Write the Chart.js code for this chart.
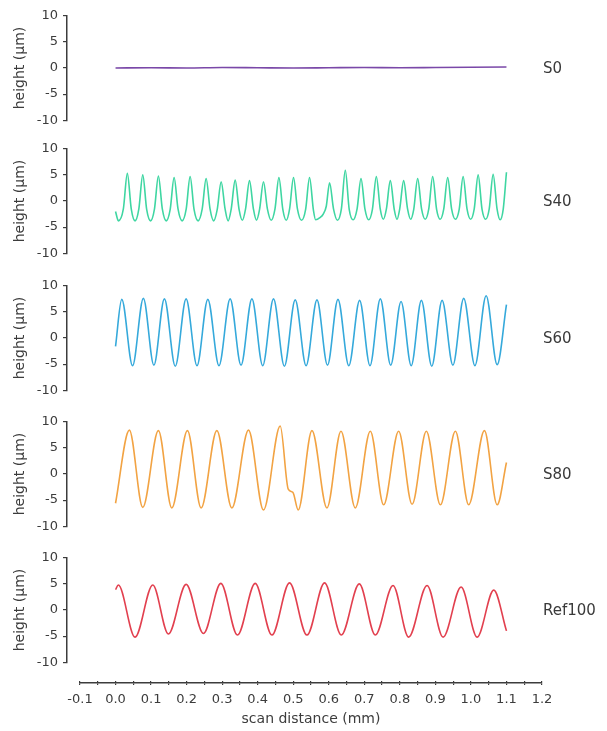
<!DOCTYPE html>
<html>
<head>
<meta charset="utf-8">
<script src="https://cdn.jsdelivr.net/npm/chart.js@4/dist/chart.umd.min.js"></script>
<style>
  html, body { margin: 0; padding: 0; background: #ffffff; }
  #figure { position: relative; width: 607px; height: 731px; overflow: hidden; }
  .strip { position: absolute; left: 0; width: 607px; }
  canvas { display: block; }
</style>
</head>
<body>
<div id="figure"></div>
<script>
// ---- profile data: scan distance (mm) and surface height (µm) ----
const panelNames = ['S0', 'S40', 'S60', 'S80', 'Ref100'];
const heightTicks = [-10, -5, 0, 5, 10];
const distanceLabels = [-0.1, 0.0, 0.1, 0.2, 0.3, 0.4, 0.5, 0.6, 0.7, 0.8, 0.9, 1.0, 1.1, 1.2];

const s0X = [0.000, 0.100, 0.200, 0.300, 0.400, 0.500, 0.600, 0.700, 0.800, 0.900, 1.000, 1.100];
const s0Y = [0.0, 0.05, 0.0, 0.1, 0.05, 0.0, 0.05, 0.1, 0.05, 0.1, 0.15, 0.2];

const s40X = [
  0.000, 0.008, 0.022, 0.0332,
  0.0442, 0.0549, 0.0656, 0.0766,
  0.0876, 0.0986, 0.1096, 0.1206,
  0.1316, 0.1427, 0.1538, 0.1648,
  0.1758, 0.1874, 0.1989, 0.2099,
  0.2209, 0.2324, 0.2439, 0.2549,
  0.2659, 0.2761, 0.2862, 0.2972,
  0.3082, 0.3169, 0.3256, 0.3366,
  0.3476, 0.3568, 0.3659, 0.3769,
  0.3879, 0.3966, 0.4053, 0.4163,
  0.4273, 0.4380, 0.4487, 0.4597,
  0.4707, 0.4803, 0.4898, 0.5008,
  0.5118, 0.5234, 0.5349, 0.5459,
  0.5569, 0.5630, 0.5750, 0.5845, 0.5930, 0.6023,
  0.6133, 0.6244, 0.6355, 0.6465,
  0.6575, 0.6686, 0.6797, 0.6907,
  0.7017, 0.7123, 0.7228, 0.7338,
  0.7448, 0.7535, 0.7622, 0.7732,
  0.7842, 0.7920, 0.7997, 0.8107,
  0.8217, 0.8304, 0.8391, 0.8501,
  0.8611, 0.8713, 0.8814, 0.8924,
  0.9034, 0.9135, 0.9236, 0.9346,
  0.9456, 0.9563, 0.9670, 0.9780,
  0.9890, 0.9992, 1.0093, 1.0203,
  1.0313, 1.0414, 1.0515, 1.0625,
  1.0735, 1.0823, 1.0910, 1.1000
];
const s40Y = [
  -2.0, -3.8, -1.5, 5.3,
  -1.5, -3.8, -1.5, 5.0,
  -1.6, -3.8, -1.5, 4.8,
  -1.5, -3.8, -1.6, 4.5,
  -1.5, -3.8, -1.5, 4.7,
  -1.6, -3.8, -1.5, 4.3,
  -1.5, -3.8, -1.6, 3.7,
  -1.5, -3.8, -1.5, 4.0,
  -1.6, -3.7, -1.5, 3.9,
  -1.5, -3.7, -1.6, 3.7,
  -1.5, -3.7, -1.5, 4.5,
  -1.6, -3.7, -1.5, 4.5,
  -1.5, -3.7, -1.6, 4.5,
  -1.8, -3.6, -3.2, -2.5, -1.0, 3.5,
  -1.5, -3.7, -1.5, 5.9,
  -1.6, -3.6, -1.5, 4.3,
  -1.5, -3.6, -1.6, 4.7,
  -1.5, -3.5, -1.5, 3.9,
  -1.6, -3.5, -1.5, 3.9,
  -1.5, -3.5, -1.6, 4.3,
  -1.5, -3.5, -1.5, 4.7,
  -1.6, -3.5, -1.5, 4.5,
  -1.5, -3.5, -1.6, 4.7,
  -1.5, -3.5, -1.5, 5.0,
  -1.6, -3.5, -1.5, 5.1,
  -1.5, -3.6, -1.5, 5.5
];

const s60X = [
  0.000, 0.0175, 0.0479, 0.0783, 0.1079, 0.1375, 0.1681, 0.1986, 0.2292, 0.2597,
  0.2911, 0.3225, 0.3531, 0.3837, 0.4141, 0.4445, 0.4751, 0.5056, 0.5362, 0.5668,
  0.5964, 0.6259, 0.6564, 0.6868, 0.7160, 0.7451, 0.7743, 0.8034, 0.8320, 0.8606,
  0.8898, 0.9189, 0.9493, 0.9797, 1.0113, 1.0428, 1.0738, 1.1000
];
const s60Y = [
  -1.6, 7.4, -5.3, 7.6, -5.2, 7.5, -5.4, 7.5, -5.3, 7.4,
  -5.3, 7.5, -5.2, 7.5, -5.3, 7.5, -5.4, 7.3, -5.3, 7.3,
  -5.2, 7.4, -5.3, 7.2, -5.3, 7.5, -5.2, 7.0, -5.3, 7.2,
  -5.4, 7.2, -5.2, 7.6, -5.3, 8.1, -5.1, 6.4
];

const s80X = [
  0.000, 0.0389, 0.0766, 0.1206, 0.1583, 0.2023, 0.2408, 0.2851, 0.3273, 0.3741,
  0.4163, 0.4634, 0.4860, 0.4990, 0.5140, 0.5527, 0.5949, 0.6344, 0.6746, 0.7169,
  0.7544, 0.7966, 0.8344, 0.8746, 0.9141, 0.9563, 0.9938, 1.0380, 1.0738, 1.1000
];
const s80Y = [
  -5.6, 8.4, -6.4, 8.3, -6.5, 8.3, -6.5, 8.3, -6.5, 8.4,
  -6.9, 9.2, -2.9, -3.5, -6.9, 8.3, -6.5, 8.2, -6.5, 8.2,
  -5.9, 8.2, -5.8, 8.2, -5.9, 8.2, -5.9, 8.3, -5.9, 2.2
];

const ref100X = [
  0.000, 0.0079, 0.0549, 0.1048, 0.1487, 0.1986, 0.2473, 0.2963, 0.3431, 0.3930,
  0.4400, 0.4896, 0.5386, 0.5882, 0.6352, 0.6859, 0.7310, 0.7808, 0.8248, 0.8766,
  0.9217, 0.9724, 1.0175, 1.0642, 1.1000
];
const ref100Y = [
  3.9, 4.8, -5.2, 4.8, -4.6, 4.9, -4.5, 5.1, -4.8, 5.1,
  -4.8, 5.2, -4.8, 5.2, -4.8, 5.0, -4.8, 4.7, -5.2, 4.7,
  -5.2, 4.4, -5.2, 3.8, -4.0
];

const profileX = [s0X, s40X, s60X, s80X, ref100X];
const profileY = [s0Y, s40Y, s60Y, s80Y, ref100Y];

// ---- appearance and page geometry ----
const lineColors = ['#7a48a8', '#3fd6a2', '#35a9db', '#f2a343', '#e2404f'];
const INK = '#3c3c3c';
const FONT = 'DejaVu Sans';
const PAGE_W = 607;
const STRIP_TOPS = [13, 146, 283, 419, 555]; // y pixel of the +10 µm tick of each strip
const PLOT_H = 110;
const PAD = 10;
const PLOT_LEFT = 67;      // vertical axis line
const AXIS_LEFT = 80;      // start of the distance axis
const PLOT_RIGHT = 542;    // end of the distance axis
const AXIS_Y = 683;        // distance axis line
const X_MIN = -0.1, X_MAX = 1.2;

const pxPerMm = (PLOT_RIGHT - AXIS_LEFT) / (X_MAX - X_MIN);
const stripXMin = X_MIN - (AXIS_LEFT - PLOT_LEFT) / pxPerMm;

const figure = document.getElementById('figure');

function makeCanvas(top, height) {
  const div = document.createElement('div');
  div.className = 'strip';
  div.style.top = top + 'px';
  div.style.height = height + 'px';
  const cv = document.createElement('canvas');
  cv.width = PAGE_W;
  cv.height = height;
  cv.style.width = PAGE_W + 'px';
  cv.style.height = height + 'px';
  div.appendChild(cv);
  figure.appendChild(div);
  return cv;
}

// Sample name written to the right of each strip, level with 0 µm
const sampleName = {
  id: 'sampleName',
  afterDatasetsDraw(chart, args, opts) {
    const { ctx, chartArea, scales } = chart;
    ctx.save();
    ctx.font = '15px "' + FONT + '"';
    ctx.fillStyle = '#3a3a3a';
    ctx.textAlign = 'left';
    ctx.textBaseline = 'middle';
    ctx.fillText(opts.text, chartArea.right + 1, scales.y.getPixelForValue(0) + 1);
    ctx.restore();
  }
};

panelNames.forEach((name, i) => {
  const cv = makeCanvas(STRIP_TOPS[i] - PAD, PLOT_H + 2 * PAD);
  const points = profileX[i].map((x, k) => ({ x: x, y: profileY[i][k] }));
  new Chart(cv, {
    type: 'line',
    data: {
      datasets: [{
        label: name,
        data: points,
        borderColor: lineColors[i],
        borderWidth: 1.6,
        pointRadius: 0,
        fill: false,
        cubicInterpolationMode: 'monotone'
      }]
    },
    options: {
      responsive: false,
      animation: false,
      devicePixelRatio: 1,
      events: [],
      layout: { padding: { top: PAD, bottom: PAD, left: 0, right: PAGE_W - PLOT_RIGHT } },
      plugins: {
        legend: { display: false },
        tooltip: { enabled: false },
        sampleName: { text: name }
      },
      scales: {
        x: { type: 'linear', display: false, min: stripXMin, max: X_MAX },
        y: {
          type: 'linear',
          min: -10,
          max: 10,
          afterFit(scale) { scale.width = PLOT_LEFT; },
          afterBuildTicks(scale) { scale.ticks = heightTicks.map(v => ({ value: v })); },
          ticks: { font: { family: FONT, size: 13 }, color: INK, padding: 5 },
          grid: { drawOnChartArea: false, drawTicks: true, tickLength: 4, color: INK, lineWidth: 1.2 },
          border: { display: true, color: INK, width: 1.5 },
          title: {
            display: true,
            text: 'height (µm)',
            font: { family: FONT, size: 14 },
            color: INK,
            padding: { top: 12, bottom: 0 }
          }
        }
      }
    },
    plugins: [sampleName]
  });
});

// ---- shared distance axis under the strips ----
const AXIS_TOP_PAD = 11;
const axisCanvas = makeCanvas(AXIS_Y - AXIS_TOP_PAD - 2, 731 - (AXIS_Y - AXIS_TOP_PAD - 2));
new Chart(axisCanvas, {
  type: 'line',
  data: { datasets: [] },
  options: {
    responsive: false,
    animation: false,
    devicePixelRatio: 1,
    events: [],
    layout: { padding: { top: AXIS_TOP_PAD, bottom: 0, left: AXIS_LEFT, right: PAGE_W - PLOT_RIGHT } },
    plugins: { legend: { display: false }, tooltip: { enabled: false } },
    scales: {
      x: {
        type: 'linear',
        position: 'bottom',
        min: X_MIN,
        max: X_MAX,
        afterFit(scale) { scale.height = axisCanvas.height - AXIS_TOP_PAD - 2; },
        ticks: {
          stepSize: 0.05,
          autoSkip: false,
          maxRotation: 0,
          padding: 7,
          font: { family: FONT, size: 13 },
          color: INK,
          callback(v) {
            const hit = distanceLabels.find(d => Math.abs(d - v) < 1e-6);
            return hit === undefined ? '' : hit.toFixed(1);
          }
        },
        grid: { drawOnChartArea: true, drawTicks: true, tickLength: 2, color: INK, lineWidth: 1.2 },
        border: { display: true, color: INK, width: 1.6 },
        title: {
          display: true,
          text: 'scan distance (mm)',
          font: { family: FONT, size: 14 },
          color: INK,
          padding: { top: 0, bottom: 3 }
        }
      },
      y: { display: false, min: 0, max: 1 }
    }
  }
});
</script>
</body>
</html>
